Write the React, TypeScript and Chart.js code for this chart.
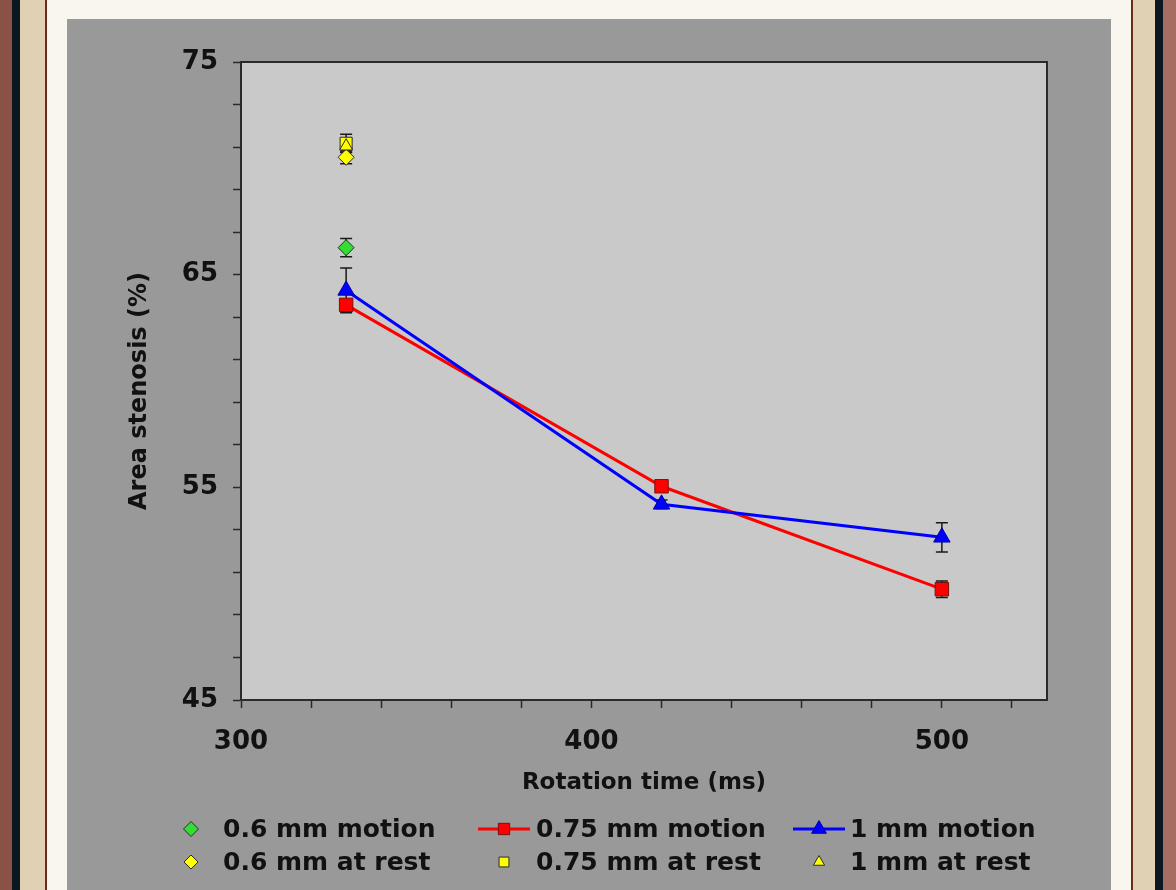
import React, { useEffect, useRef } from 'react';
import { Chart, registerables } from 'chart.js';

Chart.register(...registerables);

// ---- data ----
const rotationTimes = [330, 420, 500];
const restTimes = [330];

const motion06 = [66.27];
const motion06Err = [0.43];
const motion075 = [63.58, 55.05, 50.21];
const motion075Err = [0.12, 0.2, 0.39];
const motion1 = [64.26, 54.2, 52.65];
const motion1Err = [1.05, 0.2, 0.69];
const rest06 = [70.52];
const rest06Err = [0.3];
const rest075 = [71.18];
const rest075Err = [0.42];
const rest1 = [71.04];
const rest1Err = [0.3];

const seriesLabels = [
  '0.6 mm motion',
  '0.75 mm motion',
  '1 mm motion',
  '0.6 mm at rest',
  '0.75 mm at rest',
  '1 mm at rest',
];

const xMajorTicks = [300, 400, 500];
const yMajorTicks = [45, 55, 65, 75];
const xMin = 300;
const xMax = 530;
const xStep = 20;
const yMin = 45;
const yMax = 75;
const yStep = 2;

const xTitle = 'Rotation time (ms)';
const yTitle = 'Area stenosis (%)';

const FONT = "'DejaVu Sans', Verdana, sans-serif";

const toPoints = (xs: number[], ys: number[]) => ys.map((y, i) => ({ x: xs[i], y }));

function drawMarker(
  ctx: CanvasRenderingContext2D,
  style: string,
  x: number,
  y: number,
  r: number,
  fill: string,
  stroke: string,
  lw: number
) {
  ctx.beginPath();
  if (style === 'rect') {
    const s = r * Math.SQRT1_2;
    ctx.rect(x - s, y - s, 2 * s, 2 * s);
  } else if (style === 'rectRot') {
    ctx.moveTo(x, y - r);
    ctx.lineTo(x + r, y);
    ctx.lineTo(x, y + r);
    ctx.lineTo(x - r, y);
    ctx.closePath();
  } else {
    let a = 0;
    ctx.moveTo(x + Math.sin(a) * r, y - Math.cos(a) * r);
    a += (2 * Math.PI) / 3;
    ctx.lineTo(x + Math.sin(a) * r, y - Math.cos(a) * r);
    a += (2 * Math.PI) / 3;
    ctx.lineTo(x + Math.sin(a) * r, y - Math.cos(a) * r);
    ctx.closePath();
  }
  ctx.fillStyle = fill;
  ctx.fill();
  if (lw > 0) {
    ctx.strokeStyle = stroke;
    ctx.lineWidth = lw;
    ctx.stroke();
  }
}

const plotBgPlugin = {
  id: 'plotBg',
  beforeDraw(chart: any) {
    const { ctx, chartArea: a } = chart;
    ctx.save();
    ctx.fillStyle = '#c9c9c9';
    ctx.fillRect(a.left, a.top, a.right - a.left, a.bottom - a.top);
    ctx.restore();
  },
  beforeDatasetsDraw(chart: any) {
    const { ctx, chartArea: a } = chart;
    ctx.save();
    ctx.strokeStyle = '#2a2a2a';
    ctx.lineWidth = 2;
    ctx.beginPath();
    ctx.moveTo(a.left, a.top);
    ctx.lineTo(a.right, a.top);
    ctx.lineTo(a.right, a.bottom);
    ctx.stroke();
    ctx.restore();
  },
};

const errorBarPlugin = {
  id: 'errorBars',
  beforeDatasetsDraw(chart: any) {
    const { ctx } = chart;
    const ys = chart.scales.y;
    const xs = chart.scales.x;
    ctx.save();
    ctx.strokeStyle = '#1a1a1a';
    ctx.lineWidth = 1.5;
    chart.data.datasets.forEach((ds: any) => {
      if (!ds.errors) return;
      ds.data.forEach((p: any, i: number) => {
        const e = ds.errors[i];
        if (!e) return;
        const px = xs.getPixelForValue(p.x);
        const top = ys.getPixelForValue(p.y + e);
        const bot = ys.getPixelForValue(p.y - e);
        ctx.beginPath();
        ctx.moveTo(px, top);
        ctx.lineTo(px, bot);
        ctx.moveTo(px - 6, top);
        ctx.lineTo(px + 6, top);
        ctx.moveTo(px - 6, bot);
        ctx.lineTo(px + 6, bot);
        ctx.stroke();
      });
    });
    ctx.restore();
  },
};

const titlesLegendPlugin = {
  id: 'titlesLegend',
  afterDraw(chart: any) {
    const { ctx, chartArea: a } = chart;
    ctx.save();
    ctx.fillStyle = '#111';
    // x title
    ctx.font = `bold 23px ${FONT}`;
    ctx.textAlign = 'center';
    ctx.textBaseline = 'middle';
    ctx.fillText(xTitle, (a.left + a.right) / 2, a.bottom + 83);
    // y title
    ctx.save();
    ctx.translate(73, 372);
    ctx.rotate(-Math.PI / 2);
    ctx.font = `bold 24px ${FONT}`;
    ctx.fillText(yTitle, 0, 0);
    ctx.restore();

    // legend
    const markerX = [124, 437, 752];
    const textX = [156, 469, 783];
    const rowY = [810, 843];
    const legendSizes = [7.5, 8, 8.5, 7, 7, 6.5];
    chart.data.datasets.forEach((ds: any, i: number) => {
      const col = i % 3;
      const row = Math.floor(i / 3);
      const mx = markerX[col];
      const my = rowY[row];
      if (ds.showLine) {
        ctx.strokeStyle = ds.borderColor;
        ctx.lineWidth = 3;
        ctx.beginPath();
        ctx.moveTo(mx - 26, my);
        ctx.lineTo(mx + 26, my);
        ctx.stroke();
      }
      drawMarker(
        ctx,
        ds.pointStyle,
        mx,
        my,
        legendSizes[i],
        ds.pointBackgroundColor,
        ds.pointBorderColor,
        ds.pointBorderWidth
      );
      ctx.fillStyle = '#111';
      ctx.font = `bold 25px ${FONT}`;
      ctx.textAlign = 'left';
      ctx.textBaseline = 'middle';
      ctx.fillText(ds.label, textX[col], my + 1);
    });
    ctx.restore();
  },
};

export default function App() {
  const canvasRef = useRef<HTMLCanvasElement | null>(null);

  useEffect(() => {
    const canvas = canvasRef.current;
    if (!canvas) return;
    const chart = new Chart(canvas, {
      type: 'scatter',
      data: {
        datasets: [
          {
            label: seriesLabels[0],
            data: toPoints(restTimes, motion06),
            errors: motion06Err,
            showLine: false,
            pointStyle: 'rectRot',
            pointRadius: 8,
            pointBackgroundColor: '#33dd33',
            pointBorderColor: '#2a2a2a',
            pointBorderWidth: 1,
            borderColor: '#33dd33',
            order: 3,
          },
          {
            label: seriesLabels[1],
            data: toPoints(rotationTimes, motion075),
            errors: motion075Err,
            showLine: true,
            borderColor: '#ff0000',
            borderWidth: 3,
            pointStyle: 'rect',
            pointRadius: 9.5,
            pointBackgroundColor: '#ff0000',
            pointBorderColor: '#7a1010',
            pointBorderWidth: 1,
            order: 5,
          },
          {
            label: seriesLabels[2],
            data: toPoints(rotationTimes, motion1),
            errors: motion1Err,
            showLine: true,
            borderColor: '#0000ff',
            borderWidth: 3,
            pointStyle: 'triangle',
            pointRadius: 9.5,
            pointBackgroundColor: '#0000ff',
            pointBorderColor: '#0000aa',
            pointBorderWidth: 1,
            order: 4,
          },
          {
            label: seriesLabels[3],
            data: toPoints(restTimes, rest06),
            errors: rest06Err,
            showLine: false,
            pointStyle: 'rectRot',
            pointRadius: 8,
            pointBackgroundColor: '#ffff00',
            pointBorderColor: '#2a2a2a',
            pointBorderWidth: 1,
            borderColor: '#ffff00',
            order: 2,
          },
          {
            label: seriesLabels[4],
            data: toPoints(restTimes, rest075),
            errors: rest075Err,
            showLine: false,
            pointStyle: 'rect',
            pointRadius: 8.5,
            pointBackgroundColor: '#ffff00',
            pointBorderColor: '#2a2a2a',
            pointBorderWidth: 1,
            borderColor: '#ffff00',
            order: 1,
          },
          {
            label: seriesLabels[5],
            data: toPoints(restTimes, rest1),
            errors: rest1Err,
            showLine: false,
            pointStyle: 'triangle',
            pointRadius: 7.5,
            pointBackgroundColor: '#ffff00',
            pointBorderColor: '#2a2a2a',
            pointBorderWidth: 1,
            borderColor: '#ffff00',
            order: 0,
          },
        ] as any,
      },
      options: {
        responsive: false,
        animation: false,
        devicePixelRatio: 1,
        layout: { padding: { left: 0, right: 64, top: 43, bottom: 0 } },
        plugins: {
          legend: { display: false },
          tooltip: { enabled: false },
          title: { display: false },
        },
        scales: {
          x: {
            type: 'linear',
            min: xMin,
            max: xMax,
            afterFit: (s: any) => {
              s.height = 190;
            },
            ticks: {
              stepSize: xStep,
              autoSkip: false,
              includeBounds: false,
              maxRotation: 0,
              padding: 19,
              color: '#111',
              font: { family: FONT, size: 26, weight: 'bold' },
              callback: (v: any) => (xMajorTicks.includes(Number(v)) ? String(v) : ''),
            },
            grid: {
              display: true,
              drawOnChartArea: false,
              drawTicks: true,
              tickLength: 8,
              color: '#2a2a2a',
              tickWidth: 1.5,
            },
            border: { display: true, color: '#2a2a2a', width: 2 },
          },
          y: {
            type: 'linear',
            min: yMin,
            max: yMax,
            afterFit: (s: any) => {
              s.width = 174;
            },
            ticks: {
              stepSize: yStep,
              autoSkip: false,
              padding: 15,
              color: '#111',
              font: { family: FONT, size: 26, weight: 'bold' },
              callback: (v: any) => (yMajorTicks.includes(Number(v)) ? String(v) : ''),
            },
            grid: {
              display: true,
              drawOnChartArea: false,
              drawTicks: true,
              tickLength: 8,
              color: '#2a2a2a',
              tickWidth: 1.5,
            },
            border: { display: true, color: '#2a2a2a', width: 2 },
          },
        },
      } as any,
      plugins: [plotBgPlugin, errorBarPlugin, titlesLegendPlugin],
    });
    return () => chart.destroy();
  }, []);

  const abs = (left: number, width: number, bg: string): React.CSSProperties => ({
    position: 'absolute',
    left,
    top: 0,
    width,
    height: 890,
    background: bg,
  });

  return (
    <div
      style={{
        position: 'fixed',
        left: 0,
        top: 0,
        width: 1176,
        height: 890,
        overflow: 'hidden',
        background: 'linear-gradient(to right, #8a5245, #a66e62)',
      }}
    >
      <div style={abs(12, 8, '#0b1820')} />
      <div style={abs(1155, 8, '#0b1820')} />
      <div style={abs(20, 25, '#e0d1b5')} />
      <div style={abs(1133, 22, '#e0d1b5')} />
      <div style={abs(45, 2, '#6b2a1c')} />
      <div style={abs(1131, 2, '#6b2a1c')} />
      <div style={abs(47, 1084, '#f9f6ef')} />
      <div
        style={{
          position: 'absolute',
          left: 67,
          top: 19,
          width: 1044,
          height: 871,
          background: '#999999',
        }}
      >
        <canvas
          ref={canvasRef}
          width={1044}
          height={871}
          style={{ display: 'block', width: 1044, height: 871 }}
        />
      </div>
    </div>
  );
}
